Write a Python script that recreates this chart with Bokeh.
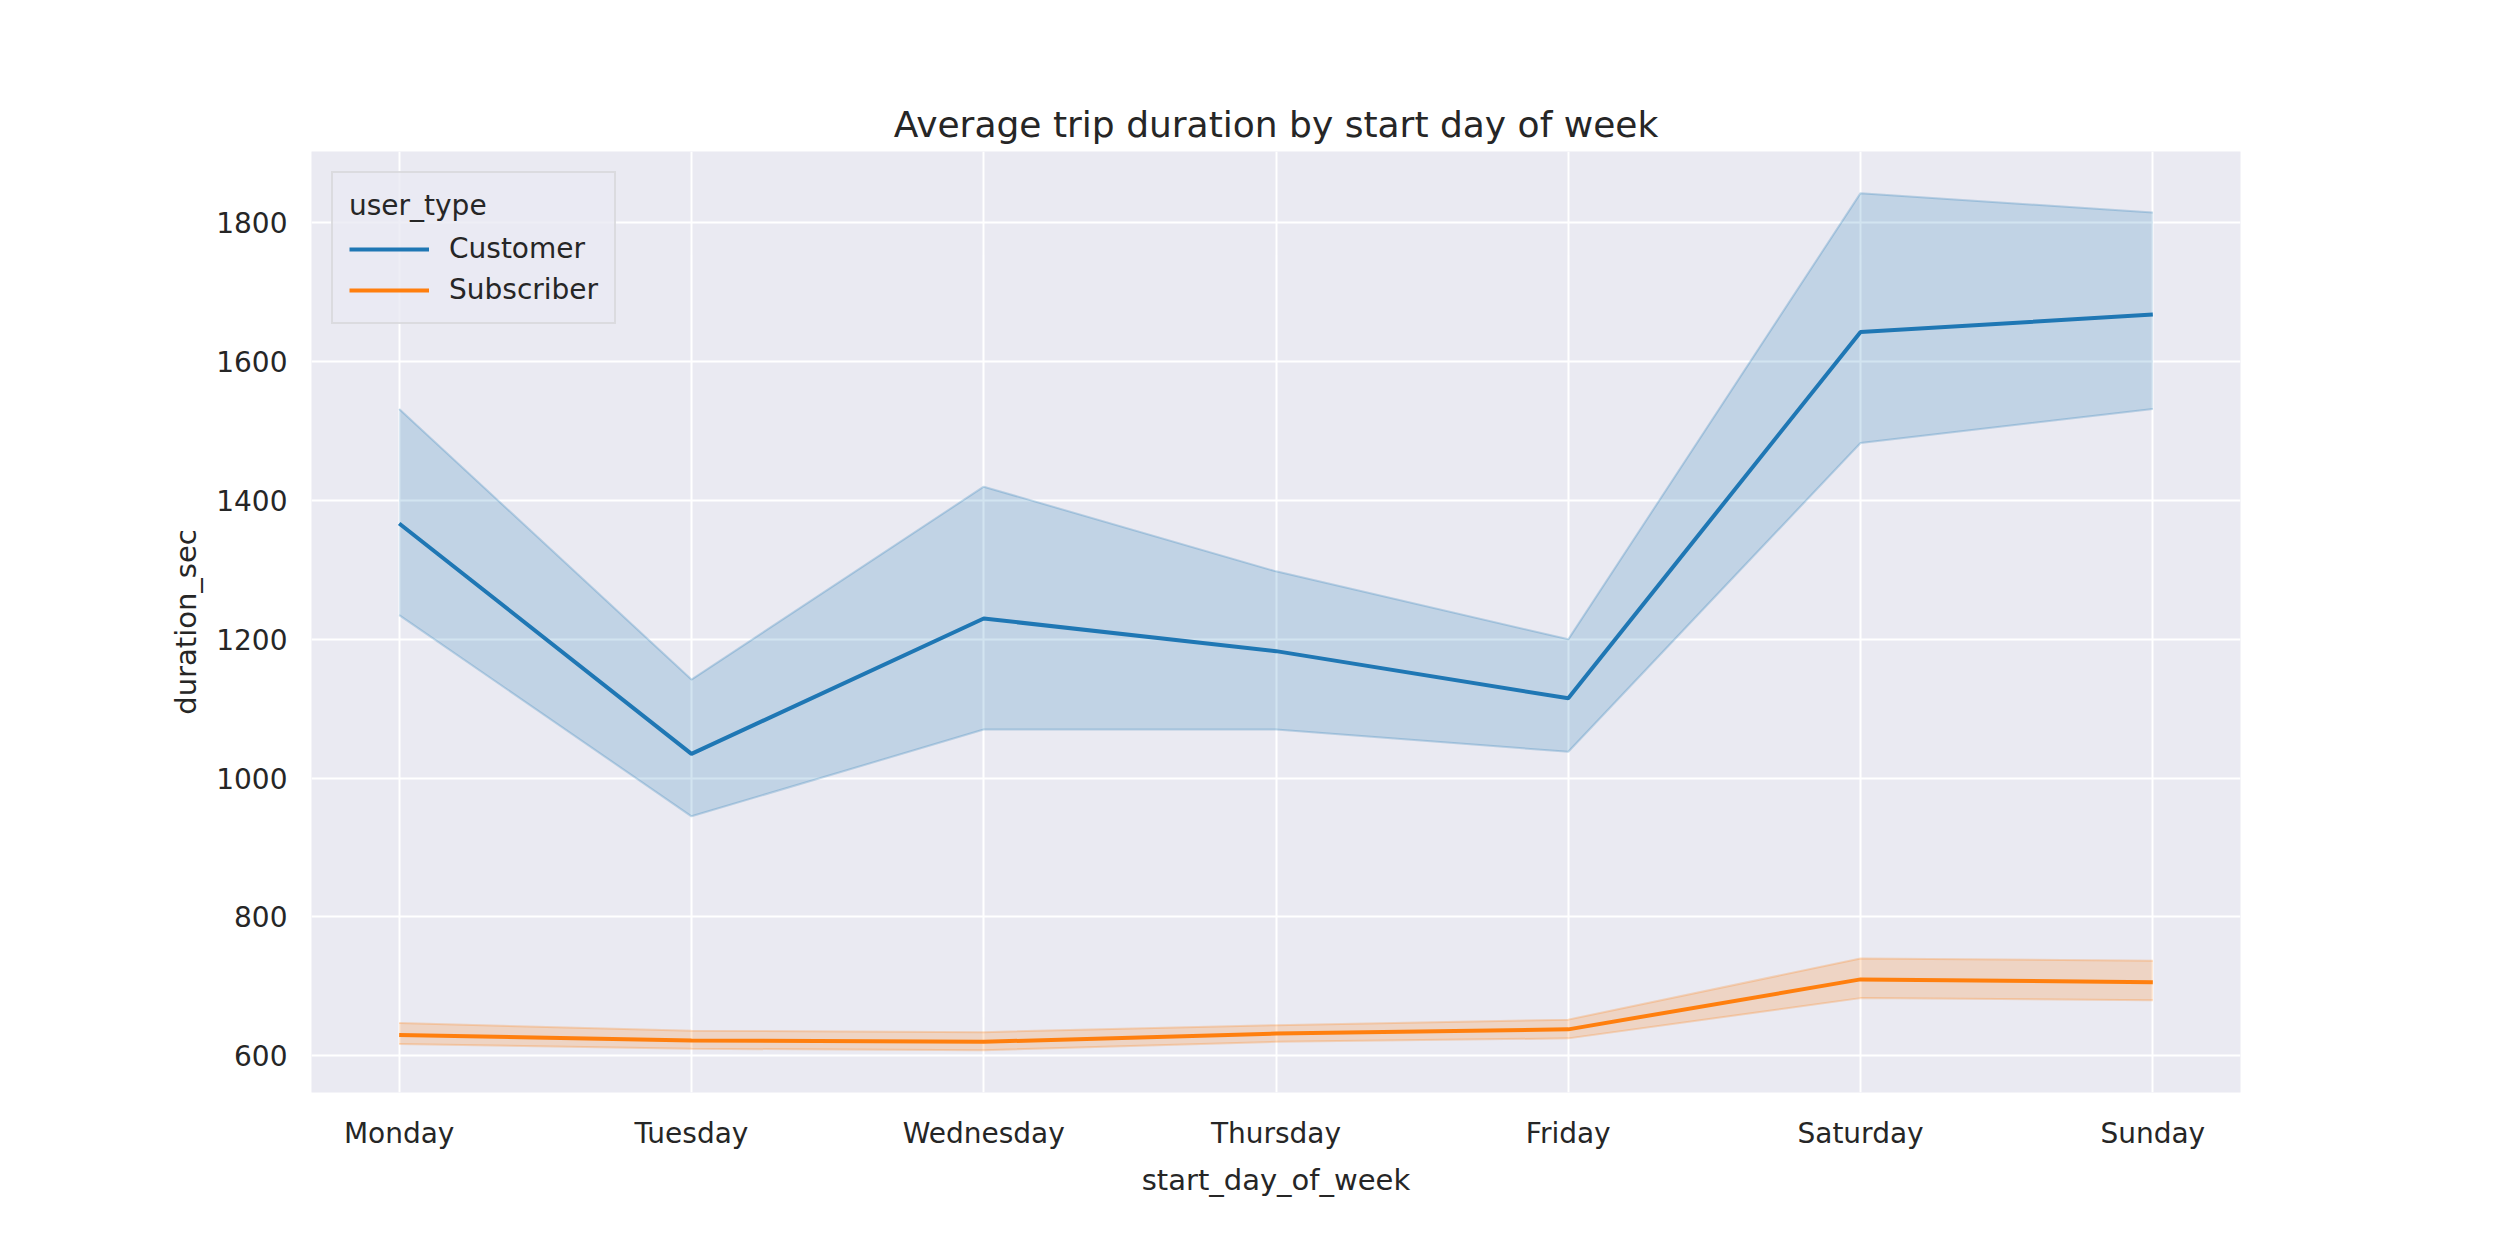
from bokeh.plotting import figure
from bokeh.models import Range1d, FixedTicker, Legend, LegendItem
from bokeh.embed import file_html
from bokeh.resources import INLINE

days = ["Monday", "Tuesday", "Wednesday", "Thursday", "Friday", "Saturday", "Sunday"]

customer_mean = [1367, 1035, 1230, 1183, 1115, 1643, 1668]
customer_low = [1235, 945, 1070, 1070, 1038, 1483, 1532]
customer_high = [1532, 1142, 1420, 1298, 1200, 1843, 1815]

subscriber_mean = [630, 622, 620, 632, 638, 710, 706]
subscriber_low = [617, 610, 608, 620, 625, 683, 680]
subscriber_high = [647, 636, 634, 644, 652, 740, 737]

FONT = "DejaVu Sans"
xs = list(range(len(days)))

p = figure(width=2484, height=1234, output_backend="svg", toolbar_location=None,
           x_range=Range1d(-0.3, 6.3), y_range=Range1d(547, 1903),
           min_border_left=311, min_border_right=244, min_border_top=151, min_border_bottom=142,
           title="Average trip duration by start day of week",
           x_axis_label="start_day_of_week", y_axis_label="duration_sec")

p.background_fill_color = "#eaeaf2"
p.border_fill_color = "white"
p.outline_line_color = None
p.grid.grid_line_color = "white"
p.grid.grid_line_width = 2

p.title.align = "center"
p.title.text_font = FONT
p.title.text_font_size = "36px"
p.title.text_font_style = "normal"
p.title.text_color = "#262626"
p.title.standoff = 14

p.xaxis.ticker = FixedTicker(ticks=xs)
p.xaxis.major_label_overrides = {i: d for i, d in enumerate(days)}
p.yaxis.ticker = FixedTicker(ticks=[600, 800, 1000, 1200, 1400, 1600, 1800])
for ax in p.axis:
    ax.axis_line_color = None
    ax.major_tick_line_color = None
    ax.minor_tick_line_color = None
    ax.major_label_text_font = FONT
    ax.major_label_text_font_size = "28px"
    ax.major_label_text_color = "#262626"
    ax.major_label_standoff = 18
    ax.axis_label_text_font = FONT
    ax.axis_label_text_font_size = "29px"
    ax.axis_label_text_font_style = "normal"
    ax.axis_label_text_color = "#262626"
    ax.axis_label_standoff = 10

blue = "#1f77b4"
orange = "#ff7f0e"

p.varea(x=xs, y1=customer_low, y2=customer_high, fill_color=blue, fill_alpha=0.2)
p.line(xs, customer_low, line_color=blue, line_alpha=0.25, line_width=2)
p.line(xs, customer_high, line_color=blue, line_alpha=0.25, line_width=2)
c = p.line(xs, customer_mean, line_color=blue, line_width=4)

p.varea(x=xs, y1=subscriber_low, y2=subscriber_high, fill_color=orange, fill_alpha=0.2)
p.line(xs, subscriber_low, line_color=orange, line_alpha=0.25, line_width=2)
p.line(xs, subscriber_high, line_color=orange, line_alpha=0.25, line_width=2)
s = p.line(xs, subscriber_mean, line_color=orange, line_width=4)

legend = Legend(items=[LegendItem(label="Customer", renderers=[c]),
                       LegendItem(label="Subscriber", renderers=[s])],
                location="top_left", title="user_type")
legend.title_text_font = FONT
legend.title_text_font_size = "28px"
legend.title_text_font_style = "normal"
legend.title_text_color = "#262626"
legend.title_standoff = 10
legend.label_text_font = FONT
legend.label_text_font_size = "28px"
legend.label_text_color = "#262626"
legend.background_fill_color = "#eaeaf2"
legend.background_fill_alpha = 0.8
legend.border_line_color = "#cccccc"
legend.border_line_width = 2
legend.margin = 20
legend.padding = 16
legend.spacing = 8
legend.glyph_width = 80
legend.label_standoff = 20
p.add_layout(legend)

open("out.html", "w").write(file_html(p, INLINE))
